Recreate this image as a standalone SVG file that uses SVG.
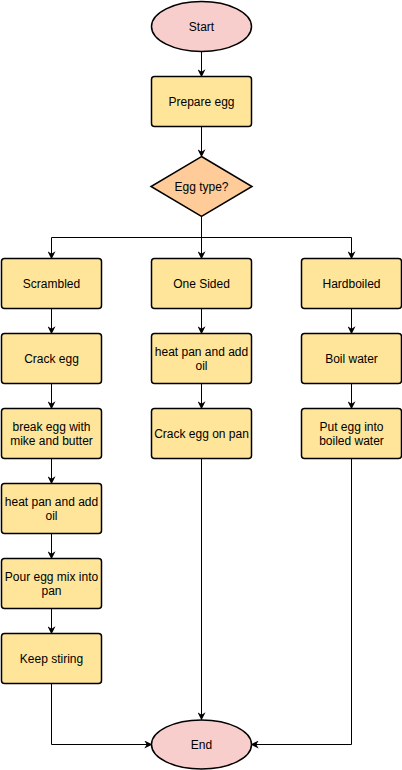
<svg xmlns="http://www.w3.org/2000/svg" width="402" height="770" viewBox="0 0 402 770">
<style>
.box{fill:#FFE599;stroke:#000;stroke-width:1.5}
.term{fill:#F8CECC;stroke:#000;stroke-width:1.5}
.dec{fill:#FFCC99;stroke:#000;stroke-width:1.5}
.edge{fill:none;stroke:#000;stroke-width:1}
text{font-family:"Liberation Sans",Arial,sans-serif;font-size:12px;fill:#000;text-anchor:middle}
</style>
<defs>
<marker id="arr" viewBox="0 0 10 10" refX="9" refY="5" markerWidth="8" markerHeight="8" markerUnits="userSpaceOnUse" orient="auto">
<path d="M0,0 L10,5 L0,10 L3,5 Z" fill="#000"/>
</marker>
</defs>
<rect width="402" height="770" fill="#fff"/>
<g id="connectors">
<path class="edge" d="M201.5,51.5 V76.5" marker-end="url(#arr)"/>
<path class="edge" d="M201.5,126.5 V156.5" marker-end="url(#arr)"/>
<path class="edge" d="M201.5,216.5 V258.5" marker-end="url(#arr)"/>
<path class="edge" d="M201.5,237.5 H51.5 V258.5" marker-end="url(#arr)"/>
<path class="edge" d="M201.5,237.5 H351.5 V258.5" marker-end="url(#arr)"/>
<path class="edge" d="M51.5,308.5 V333.5" marker-end="url(#arr)"/>
<path class="edge" d="M51.5,383.5 V408.5" marker-end="url(#arr)"/>
<path class="edge" d="M51.5,458.5 V483.5" marker-end="url(#arr)"/>
<path class="edge" d="M51.5,533.5 V558.5" marker-end="url(#arr)"/>
<path class="edge" d="M51.5,608.5 V633.5" marker-end="url(#arr)"/>
<path class="edge" d="M51.5,683.5 V744.5 H151.5" marker-end="url(#arr)"/>
<path class="edge" d="M201.5,308.5 V333.5" marker-end="url(#arr)"/>
<path class="edge" d="M201.5,383.5 V408.5" marker-end="url(#arr)"/>
<path class="edge" d="M201.5,458.5 V719.5" marker-end="url(#arr)"/>
<path class="edge" d="M351.5,308.5 V333.5" marker-end="url(#arr)"/>
<path class="edge" d="M351.5,383.5 V408.5" marker-end="url(#arr)"/>
<path class="edge" d="M351.5,458.5 V744.5 H251.5" marker-end="url(#arr)"/>
</g>
<g id="start"><ellipse class="term" cx="201.5" cy="26.5" rx="50" ry="25"/><text x="201.5" y="31">Start</text></g>
<g id="prepare"><rect class="box" x="151.5" y="76.5" width="100" height="50" rx="3"/><text x="201.5" y="105.5">Prepare egg</text></g>
<g id="eggtype"><path class="dec" d="M201.5,156.5 L252,186.5 L201.5,216.5 L151,186.5 Z"/><text x="201.5" y="191">Egg type?</text></g>
<g id="scrambled"><rect class="box" x="1.5" y="258.5" width="100" height="50" rx="3"/><text x="51.5" y="288">Scrambled</text></g>
<g id="crack"><rect class="box" x="1.5" y="333.5" width="100" height="50" rx="3"/><text x="51.5" y="363">Crack egg</text></g>
<g id="break"><rect class="box" x="1.5" y="408.5" width="100" height="50" rx="3"/><text x="51.5" y="430.5">break egg with</text><text x="51.5" y="444.5">mike and butter</text></g>
<g id="heat1"><rect class="box" x="1.5" y="483.5" width="100" height="50" rx="3"/><text x="51.5" y="505.5">heat pan and add</text><text x="51.5" y="519.5">oil</text></g>
<g id="pour"><rect class="box" x="1.5" y="558.5" width="100" height="50" rx="3"/><text x="51.5" y="580.5">Pour egg mix into</text><text x="51.5" y="594.5">pan</text></g>
<g id="stir"><rect class="box" x="1.5" y="633.5" width="100" height="50" rx="3"/><text x="51.5" y="663">Keep stiring</text></g>
<g id="onesided"><rect class="box" x="151.5" y="258.5" width="100" height="50" rx="3"/><text x="201.5" y="288">One Sided</text></g>
<g id="heat2"><rect class="box" x="151.5" y="333.5" width="100" height="50" rx="3"/><text x="201.5" y="355.5">heat pan and add</text><text x="201.5" y="369.5">oil</text></g>
<g id="crackpan"><rect class="box" x="151.5" y="408.5" width="100" height="50" rx="3"/><text x="201.5" y="438">Crack egg on pan</text></g>
<g id="hardboiled"><rect class="box" x="301.5" y="258.5" width="100" height="50" rx="3"/><text x="351.5" y="288">Hardboiled</text></g>
<g id="boil"><rect class="box" x="301.5" y="333.5" width="100" height="50" rx="3"/><text x="351.5" y="363">Boil water</text></g>
<g id="put"><rect class="box" x="301.5" y="408.5" width="100" height="50" rx="3"/><text x="351.5" y="430.5">Put egg into</text><text x="351.5" y="444.5">boiled water</text></g>
<g id="end"><ellipse class="term" cx="201.5" cy="744.5" rx="50" ry="24.5"/><text x="201.5" y="749">End</text></g>
</svg>
